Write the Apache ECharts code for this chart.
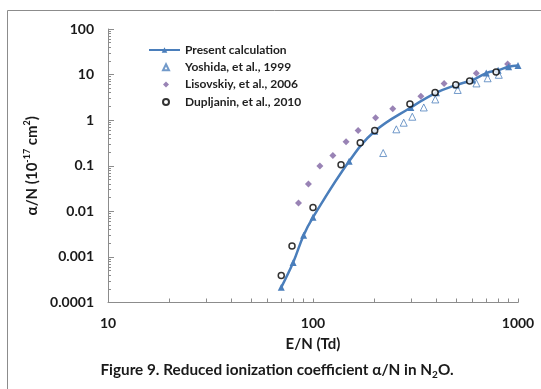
<!DOCTYPE html>
<html>
<head>
<meta charset="utf-8">
<script src="https://cdn.jsdelivr.net/npm/echarts@6/dist/echarts.min.js"></script>
<style>
  html, body { margin: 0; padding: 0; background: #fff; }
  #chart { width: 541px; height: 389px; }
</style>
</head>
<body>
<div id="chart"></div>
<script>
// E/N (Td) and alpha/N (1e-17 cm2)
const presentX = [70, 80, 90, 100, 150, 200, 300, 400, 500, 600, 700, 800, 900, 1000]
const presentY = [0.000215, 0.00075, 0.003, 0.0074, 0.125, 0.57, 1.9, 4.0, 5.9, 7.6, 10.8, 12.5, 14.8, 15.8]

const yoshidaX = [220, 255, 277, 305, 347, 395, 508, 627, 711, 806]
const yoshidaY = [0.19, 0.63, 0.88, 1.19, 1.9, 2.85, 4.6, 6.4, 8.3, 9.9]

const lisovskiyX = [85, 95, 108, 125, 145, 166, 202, 245, 336, 436, 626, 890]
const lisovskiyY = [0.0153, 0.04, 0.099, 0.167, 0.335, 0.59, 1.13, 1.78, 3.35, 6.4, 10.7, 17.0]

const dupljaninX = [70, 79, 100, 137, 170, 200, 297, 394, 497, 581, 782]
const dupljaninY = [0.00039, 0.00174, 0.0121, 0.105, 0.32, 0.59, 2.27, 4.05, 6.0, 7.24, 11.4]

const seriesNames = ['Present calculation', 'Yoshida, et al., 1999', 'Lisovskiy, et al., 2006', 'Dupljanin, et al., 2010']

const xTickValues = [10, 100, 1000]
const xTickLabels = ['10', '100', '1000']
const xMinorTicks = [10, 20, 30, 40, 50, 60, 70, 80, 90, 100, 200, 300, 400, 500, 600, 700, 800, 900, 1000]

const yTickValues = [0.0001, 0.001, 0.01, 0.1, 1, 10, 100]
const yTickLabels = ['0.0001', '0.001', '0.01', '0.1', '1', '10', '100']
const yMinorTicks = []
yTickValues.slice(0, -1).forEach(d => {
  for (let k = 2; k <= 9; k++) yMinorTicks.push(d * k)
})

const pairs = (xs, ys) => xs.map((x, i) => [x, ys[i]])

const labelFor = (values, labels) => v => {
  let best = 0
  values.forEach((t, i) => {
    if (Math.abs(Math.log10(t) - Math.log10(v)) < Math.abs(Math.log10(values[best]) - Math.log10(v))) best = i
  })
  return labels[best]
}

const FONT = 'Lato'
const BLUE = '#4A7EBB'
const legendText = { fontFamily: FONT, fontSize: 12, fontWeight: 'bold', color: '#1f1f1f', lineHeight: 14 }

const chart = echarts.init(document.getElementById('chart'))

const option = {
  backgroundColor: '#fff',
  animation: false,
  textStyle: { fontFamily: FONT },
  grid: { left: 108, right: 23, top: 29, bottom: 86.5 },
  legend: [
    {
      orient: 'vertical',
      left: 148,
      top: 43,
      padding: 0,
      itemWidth: 31,
      itemHeight: 7,
      textStyle: legendText,
      data: [seriesNames[0]]
    },
    {
      // marker-only entries, small icons
      orient: 'vertical',
      left: 162,
      top: 60.3,
      padding: 0,
      itemWidth: 6,
      itemHeight: 6,
      itemGap: 3.3,
      textStyle: Object.assign({ padding: [0, 0, 0, 11] }, legendText),
      data: seriesNames.slice(1)
    }
  ],
  xAxis: {
    type: 'log',
    logBase: 10,
    min: 10,
    max: 1000,
    name: 'E/N (Td)',
    nameLocation: 'middle',
    nameGap: 34,
    nameTextStyle: { fontFamily: FONT, fontSize: 15, fontWeight: 'bold', color: '#1a1a1a' },
    axisLine: { lineStyle: { color: '#8C8C8C', width: 1 } },
    axisTick: { inside: true, length: 4, customValues: xMinorTicks, lineStyle: { color: '#8C8C8C' } },
    axisLabel: {
      customValues: xTickValues,
      formatter: labelFor(xTickValues, xTickLabels),
      margin: 14,
      fontFamily: FONT, fontSize: 14, fontWeight: 'bold', color: '#1a1a1a'
    },
    splitLine: { show: false },
    minorTick: { show: false }
  },
  yAxis: [
    {
      type: 'log',
      logBase: 10,
      min: 0.0001,
      max: 100,
      position: 'left',
      name: '{a|α/N (10}{s|-17}{a| cm}{s|2}{a|)}',
      nameLocation: 'middle',
      nameGap: 55,
      nameTextStyle: {
        rich: {
          a: { fontFamily: FONT, fontSize: 15, fontWeight: 'bold', color: '#1a1a1a', lineHeight: 18 },
          s: { fontFamily: FONT, fontSize: 9, fontWeight: 'bold', color: '#1a1a1a', lineHeight: 18, verticalAlign: 'top', padding: [0, 0, 6, 0] }
        }
      },
      axisLine: { show: true, lineStyle: { color: '#8C8C8C', width: 1 } },
      axisTick: { inside: true, length: 6, customValues: yTickValues, lineStyle: { color: '#8C8C8C' } },
      axisLabel: {
        customValues: yTickValues,
        formatter: labelFor(yTickValues, yTickLabels),
        margin: 14,
        fontFamily: FONT, fontSize: 14, fontWeight: 'bold', color: '#1a1a1a'
      },
      splitLine: { show: false }
    },
    {
      // minor ticks only
      type: 'log',
      logBase: 10,
      min: 0.0001,
      max: 100,
      position: 'left',
      axisLine: { show: false },
      axisTick: { inside: true, length: 3, customValues: yMinorTicks, lineStyle: { color: '#8C8C8C' } },
      axisLabel: { show: false },
      splitLine: { show: false }
    }
  ],
  series: [
    {
      name: seriesNames[0],
      type: 'line',
      smooth: 0.4,
      data: pairs(presentX, presentY),
      symbol: 'triangle',
      symbolSize: 7,
      lineStyle: { color: BLUE, width: 2.5 },
      itemStyle: { color: BLUE },
      z: 3
    },
    {
      name: seriesNames[1],
      type: 'scatter',
      data: pairs(yoshidaX, yoshidaY),
      symbol: 'triangle',
      symbolSize: 7,
      itemStyle: { color: '#fff', borderColor: '#4F81BD', borderWidth: 1 },
      z: 2
    },
    {
      name: seriesNames[2],
      type: 'scatter',
      data: pairs(lisovskiyX, lisovskiyY),
      symbol: 'diamond',
      symbolSize: 7,
      itemStyle: { color: '#8064A2' },
      z: 2
    },
    {
      name: seriesNames[3],
      type: 'scatter',
      data: pairs(dupljaninX, dupljaninY),
      symbol: 'circle',
      symbolSize: 6,
      itemStyle: { color: '#fff', borderColor: '#000', borderWidth: 1.5 },
      z: 4
    }
  ],
  graphic: [
    {
      type: 'rect',
      silent: true,
      z: -10,
      shape: { x: 7.5, y: 10.5, width: 600, height: 420 },
      style: { fill: 'none', stroke: '#8C8C8C', lineWidth: 1 }
    },
    {
      type: 'text',
      silent: true,
      x: 277,
      y: 370,
      style: {
        text: '{a|Figure 9. Reduced ionization coefficient α/N in N}{b|2}{a|O.}',
        align: 'center',
        verticalAlign: 'middle',
        rich: {
          a: { fontFamily: FONT, fontSize: 15.3, fontWeight: 'bold', fill: '#1a1a1a', lineHeight: 20 },
          b: { fontFamily: FONT, fontSize: 10, fontWeight: 'bold', fill: '#1a1a1a', lineHeight: 20, verticalAlign: 'bottom', padding: [6, 0, 0, 0] }
        }
      }
    }
  ]
}

chart.setOption(option)
</script>
</body>
</html>
